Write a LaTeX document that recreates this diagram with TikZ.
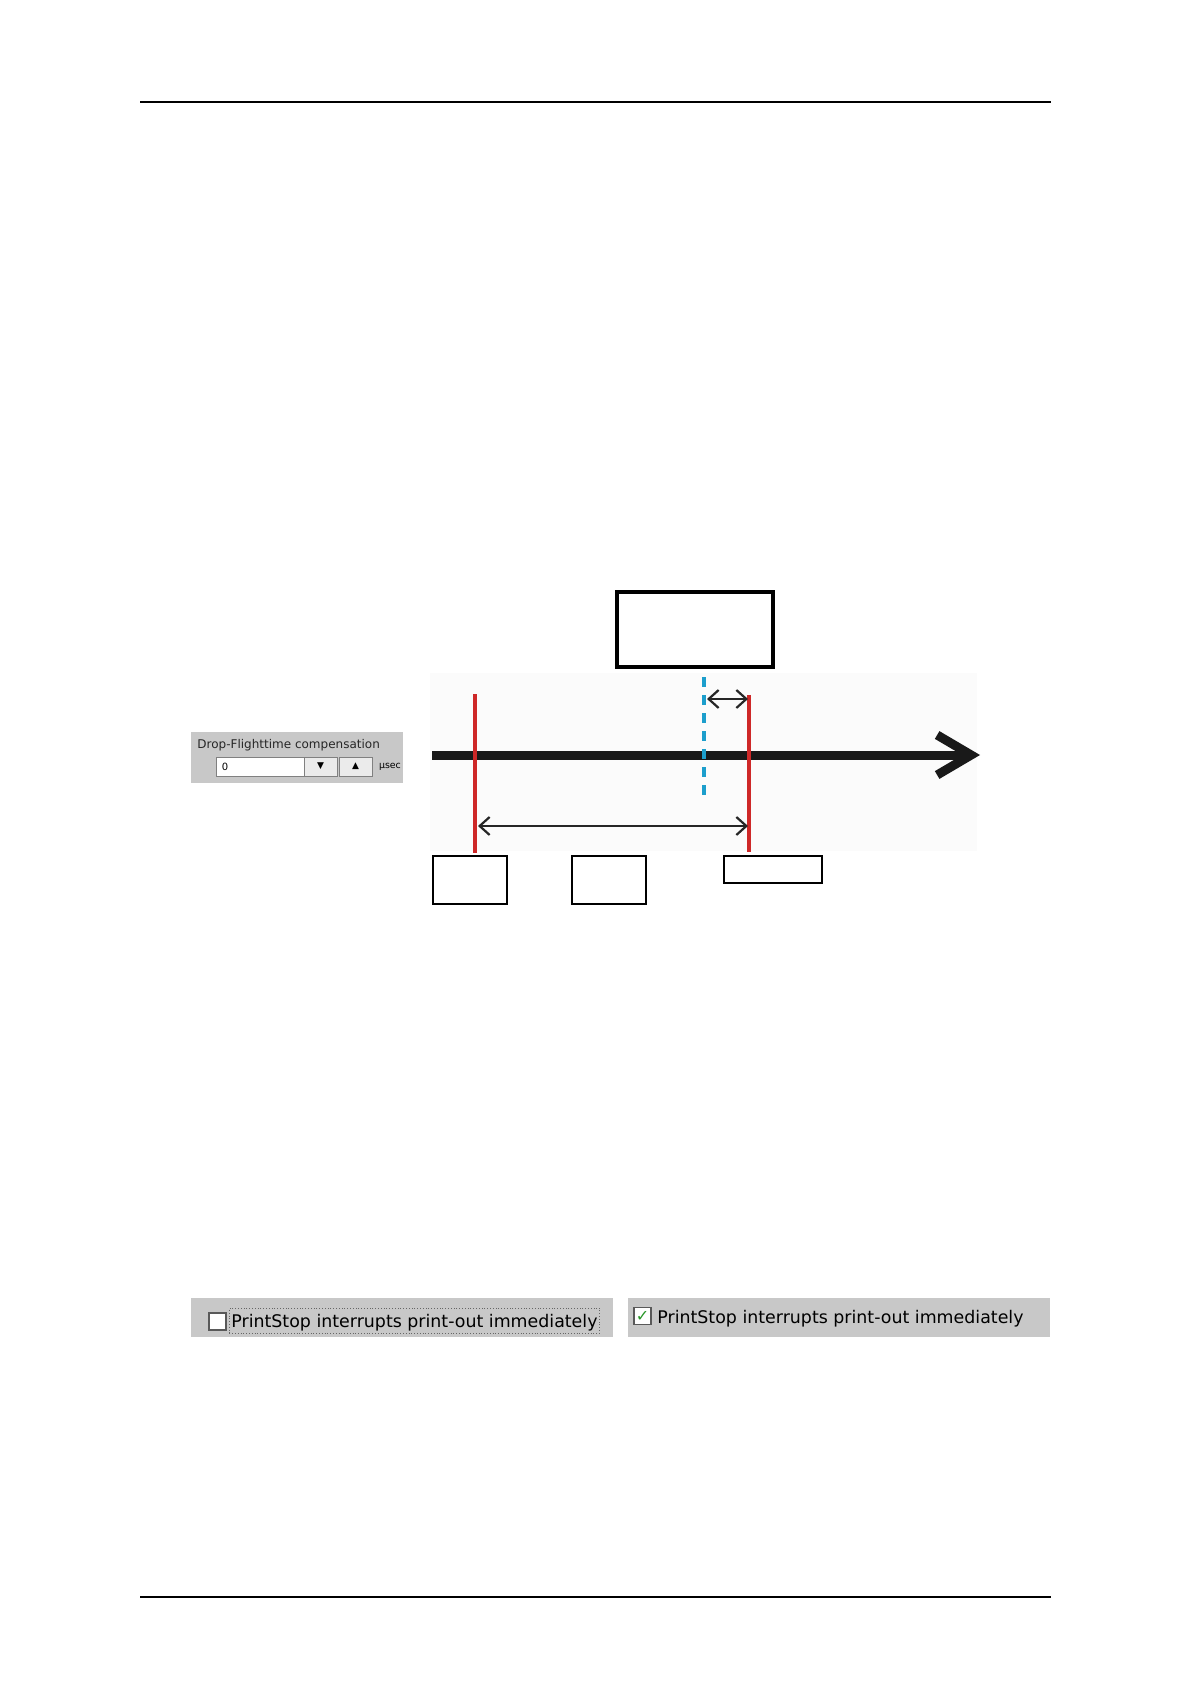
\documentclass[tikz,border=0pt]{standalone}
\usepackage{fontspec}
\newfontfamily\uifont{DejaVu Sans}
\usepackage{tikz}
\usetikzlibrary{arrows.meta,positioning}
\definecolor{marker}{RGB}{206,40,40}
\definecolor{flight}{RGB}{28,158,204}
\definecolor{panelgray}{RGB}{200,200,200}
\definecolor{tickgreen}{RGB}{40,150,40}

\begin{document}
\begin{tikzpicture}[
    x=0.5pt, y=-0.5pt,
    rule/.style={line width=0.7pt},
    timeaxis/.style={line width=4.5pt, black!90, -{Straight Barb[length=17pt,width=20pt]}},
    markline/.style={line width=2pt, marker},
    flightline/.style={line width=2pt, flight, dash pattern=on 5pt off 4pt},
    dimarrow/.style={{Straight Barb[length=5pt,width=9pt]}-{Straight Barb[length=5pt,width=9pt]}, line width=1.1pt, black!85},
    titlebox/.style={rectangle, draw, line width=2pt, minimum width=78pt, minimum height=37.5pt, inner sep=0pt},
    tagbox/.style={rectangle, draw, line width=0.75pt, minimum width=37pt, minimum height=24pt, inner sep=0pt},
    panel/.style={rectangle, fill=panelgray, minimum height=19.5pt, inner sep=0pt},
    field/.style={rectangle, draw=gray, fill=white, line width=0.5pt, minimum height=9.5pt, inner sep=0pt},
    spin/.style={field, fill=black!8, minimum width=16.5pt, font=\uifont\fontsize{4.5}{5}\selectfont},
    checkbox/.style={rectangle, draw=gray!70!black, fill=white, line width=0.6pt, minimum width=8.5pt, minimum height=8.5pt, inner sep=0pt},
    uitext/.style={font=\uifont\fontsize{8.7}{10}\selectfont, inner sep=0pt}
]
\fill[white] (0,0) rectangle (1191,1684);
\useasboundingbox (0,0) rectangle (1191,1684);

\coordinate (headl) at (140,102);
\coordinate (headr) at (1051,102);
\coordinate (footl) at (140,1597);
\coordinate (footr) at (1051,1597);
\draw[rule] (headl) -- (headr);
\draw[rule] (footl) -- (footr);

\node[panel, minimum width=106pt, minimum height=25.5pt] (drop) at (297,757.5) {};
\node[anchor=base west, inner sep=0pt, font=\uifont\fontsize{6}{7}\selectfont, text=black!85] (droplabel) at (197,748) {Drop-Flighttime compensation};
\node[field, minimum width=44pt] (value) at (260,766.5) {};
\node[anchor=west, inner sep=0pt, font=\uifont\fontsize{5}{6}\selectfont] (zero) at ([xshift=3pt]value.west) {0};
\node[spin] (down) at (320.5,766.5) {▼};
\node[spin] (up) at (355.5,766.5) {▲};
\node[inner sep=0pt, font=\uifont\fontsize{4.7}{5}\selectfont] (unit) at (390,767) {µsec};

\fill[black!1.5] (430,673) rectangle (977,851);
\node[titlebox] (mode) at (695,629.5) {};

\coordinate (axstart) at (432,755);
\coordinate (axend) at (980,755);
\coordinate (ltop) at (475,694);
\coordinate (lbot) at (475,853);
\coordinate (rtop) at (749,695);
\coordinate (rbot) at (749,852);
\coordinate (ftop) at (704,677);
\coordinate (fbot) at (704,795);

\draw[timeaxis] (axstart) -- (axend);
\draw[markline] (ltop) -- (lbot);
\draw[markline] (rtop) -- (rbot);
\draw[flightline] (ftop) -- (fbot);

\coordinate (shorta) at (707,699);
\coordinate (shortb) at (748,699);
\coordinate (longa) at (478,826);
\coordinate (longb) at (748,826);
\draw[dimarrow] (shorta) -- (shortb);
\draw[dimarrow] (longa) -- (longb);

\node[tagbox] (start) at (470,880) {};
\node[tagbox] (span) at (609,880) {};
\node[tagbox, minimum width=49pt, minimum height=13.5pt] (stop) at (773,869.5) {};

\node[panel, minimum width=211pt] (optoff) at (402,1317.5) {};
\node[panel, minimum width=211pt] (opton) at (839,1317.5) {};
\node[checkbox] (boxoff) at (217.5,1321.5) {};
\node[checkbox] (boxon) at (642.5,1316) {};
\node[inner sep=0pt, text=tickgreen, font=\uifont\fontsize{8}{8}\selectfont] (tick) at (boxon) {✓};
\node[uitext, anchor=base west, draw=black!60, densely dotted, inner xsep=1pt, inner ysep=2pt, text height=7.5pt, text depth=1pt] (textoff) at (229,1327) {PrintStop interrupts print-out immediately};
\node[uitext, anchor=base west] (texton) at (657,1323) {PrintStop interrupts print-out immediately};
\end{tikzpicture}
\end{document}
